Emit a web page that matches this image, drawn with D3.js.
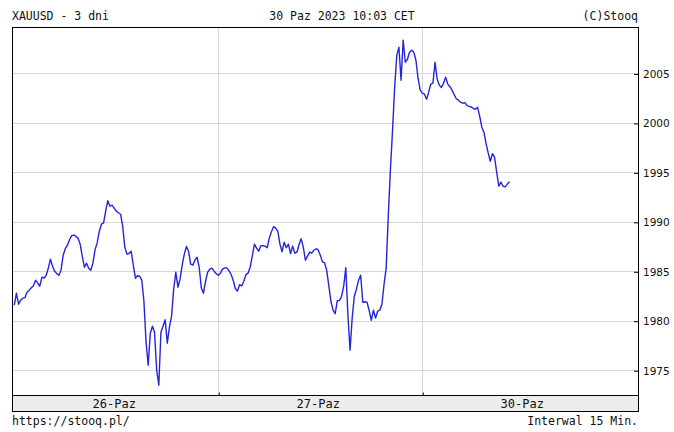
<!DOCTYPE html>
<html>
<head>
<meta charset="utf-8">
<script src="https://cdn.jsdelivr.net/npm/d3@7"></script>
<style>
  body { margin: 0; background: #fff; }
  svg { display: block; }
</style>
</head>
<body>
<svg id="chart" width="674" height="432"></svg>
<script>
// --- data (15 min bars) ---
const titleLeft = "XAUUSD - 3 dni";
const titleMid = "30 Paz 2023 10:03 CET";
const titleRight = "(C)Stooq";
const footLeft = "https://stooq.pl/";
const footRight = "Interwal 15 Min.";

const dayLabels = ["26-Paz", "27-Paz", "30-Paz"];
const dayStarts = [0, 96, 192];
const slotsPerDay = 96;
const yTicks = [1975, 1980, 1985, 1990, 1995, 2000, 2005];

const day26 = [
  1981.57, 1982.78, 1981.67, 1982.08, 1982.28, 1982.33, 1982.89, 1983.09, 1983.34, 1983.54,
  1984.10, 1983.83, 1983.49, 1984.40, 1984.30, 1984.60, 1985.31, 1986.22, 1985.51, 1985.01,
  1984.76, 1984.60, 1985.11, 1986.63, 1987.28, 1987.64, 1988.19, 1988.60, 1988.65, 1988.52,
  1988.35, 1987.74, 1986.48, 1985.41, 1985.82, 1985.31, 1985.11, 1985.82, 1987.18, 1987.87,
  1989.05, 1989.76, 1989.86, 1991.08, 1992.14, 1991.58, 1991.68, 1991.38, 1991.08, 1990.92,
  1990.77, 1989.56, 1987.44, 1986.73, 1986.80, 1987.03, 1985.62, 1984.30, 1984.55, 1984.50,
  1984.10, 1981.97, 1977.83, 1975.50, 1978.74, 1979.45, 1978.84, 1975.00, 1973.48, 1978.84,
  1979.45, 1980.10, 1977.73, 1979.35, 1980.46, 1983.19, 1984.91, 1983.39, 1984.20, 1985.62,
  1986.73, 1987.51, 1987.03, 1985.72, 1985.62, 1986.12, 1986.42, 1985.41, 1983.34, 1982.78,
  1983.99, 1984.91, 1985.21, 1985.31, 1985.01, 1984.76
];
const day27 = [
  1984.60, 1984.81, 1985.21, 1985.34, 1985.34, 1985.06, 1984.70, 1984.10, 1983.26, 1982.99,
  1983.64, 1983.52, 1984.00, 1984.66, 1984.81, 1985.41, 1986.53, 1987.74, 1987.34, 1987.03,
  1987.57, 1987.59, 1987.54, 1987.38, 1988.35, 1989.00, 1989.51, 1989.36, 1989.05, 1987.74,
  1986.98, 1987.94, 1987.38, 1987.74, 1986.78, 1987.54, 1986.83, 1986.93, 1987.71, 1988.28,
  1987.44, 1986.12, 1986.53, 1986.93, 1986.83, 1987.13, 1987.28, 1987.16, 1986.63, 1985.95,
  1985.87, 1985.11, 1983.54, 1981.97, 1981.07, 1980.71, 1982.03, 1982.03, 1982.45, 1983.49,
  1985.36, 1980.56, 1977.02, 1980.26, 1982.48, 1983.19, 1984.10, 1984.60, 1981.87, 1981.92,
  1981.87, 1981.02, 1980.05, 1981.07, 1980.26, 1980.96, 1981.07, 1981.67, 1983.69, 1985.31,
  1990.67, 1995.32, 1999.27, 2003.61, 2006.85, 2007.66, 2004.32, 2008.37, 2006.14, 2006.44,
  2007.15, 2007.35, 2007.15, 2006.34, 2004.52, 2003.31
];
const day30 = [
  2003.01, 2002.91, 2002.40, 2003.11, 2003.92, 2004.02, 2006.14, 2004.42, 2003.82, 2003.58,
  2004.02, 2004.62, 2003.92, 2003.66, 2003.31, 2002.86, 2002.45, 2002.30, 2002.10, 2001.99,
  2002.05, 2001.79, 2001.66, 2001.62, 2001.46, 2001.39, 2001.59, 2000.68, 1999.57, 1999.06,
  1997.90, 1996.97, 1996.13, 1996.89, 1996.54, 1995.02, 1993.60, 1994.01, 1993.60, 1993.53,
  1993.81, 1994.06
];

const prices = day26.concat(day27, day30);

// --- layout ---
const plot = { left: 12, right: 638, top: 27, bottom: 395 };
const bandH = 16;
const mono = "'DejaVu Sans Mono', 'Liberation Mono', monospace";

const svg = d3.select("#chart");

const x = d3.scaleLinear()
  .domain([0, 3 * slotsPerDay])
  .range([14.3, 626.3]);

const y = d3.scaleLinear()
  .domain([1972.49, 2009.7])
  .range([plot.bottom, plot.top]);

svg.append("rect")
  .attr("width", 674).attr("height", 432)
  .attr("fill", "#fff");

// grid
svg.append("g")
  .selectAll("line")
  .data(yTicks)
  .join("line")
  .attr("x1", plot.left).attr("x2", plot.right)
  .attr("y1", d => Math.round(y(d)) + 0.5)
  .attr("y2", d => Math.round(y(d)) + 0.5)
  .attr("stroke", "#d6d6d6");

svg.append("g")
  .selectAll("line")
  .data(dayStarts.slice(1))
  .join("line")
  .attr("x1", d => Math.round(x(d)) + 0.5)
  .attr("x2", d => Math.round(x(d)) + 0.5)
  .attr("y1", plot.top).attr("y2", plot.bottom)
  .attr("stroke", "#d6d6d6");

// price line
const line = d3.line()
  .x((d, i) => x(i))
  .y(d => y(d));

svg.append("path")
  .datum(prices)
  .attr("fill", "none")
  .attr("stroke", "#2424dc")
  .attr("stroke-width", 1.4)
  .attr("stroke-linejoin", "round")
  .attr("d", line);

// frame
svg.append("rect")
  .attr("x", plot.left + 0.5).attr("y", plot.top + 0.5)
  .attr("width", plot.right - plot.left)
  .attr("height", plot.bottom - plot.top)
  .attr("fill", "none")
  .attr("stroke", "#000");

// right axis, ticks pointing into the plot
svg.append("g")
  .attr("transform", `translate(${plot.right - 4},0.5)`)
  .call(d3.axisRight(y).tickValues(yTicks).tickSize(4).tickPadding(5).tickFormat(d3.format("d")))
  .call(g => g.select(".domain").remove())
  .call(g => g.selectAll("line").attr("stroke", "#000"))
  .call(g => g.selectAll("text")
    .attr("fill", "#111")
    .style("font-family", "'DejaVu Sans', Verdana, sans-serif")
    .style("font-size", "10.5px"));

// date band
svg.append("rect")
  .attr("x", plot.left + 0.5).attr("y", plot.bottom + 0.5)
  .attr("width", plot.right - plot.left)
  .attr("height", bandH)
  .attr("fill", "#ececec")
  .attr("stroke", "#000");

svg.append("g")
  .attr("transform", `translate(0.5,${plot.bottom + 0.5})`)
  .call(d3.axisTop(x).tickValues(dayStarts.slice(1)).tickSize(3).tickFormat(""))
  .call(g => g.select(".domain").remove())
  .call(g => g.selectAll("line").attr("stroke", "#000"));

svg.append("g")
  .selectAll("text")
  .data(dayLabels)
  .join("text")
  .attr("x", (d, i) => x(dayStarts[i] + slotsPerDay / 2) - 2)
  .attr("y", plot.bottom + 12.5)
  .attr("text-anchor", "middle")
  .style("font-family", mono)
  .style("font-size", "12px")
  .attr("fill", "#111")
  .text(d => d);

// header / footer
const texts = [
  { t: titleLeft, x: plot.left, y: 20, a: "start" },
  { t: titleMid, x: 342, y: 20, a: "middle" },
  { t: titleRight, x: plot.right, y: 20, a: "end" },
  { t: footLeft, x: plot.left, y: 425, a: "start" },
  { t: footRight, x: plot.right, y: 425, a: "end" }
];

svg.append("g")
  .selectAll("text")
  .data(texts)
  .join("text")
  .attr("x", d => d.x)
  .attr("y", d => d.y)
  .attr("text-anchor", d => d.a)
  .style("font-family", mono)
  .style("font-size", "11.5px")
  .attr("fill", "#111")
  .text(d => d.t);
</script>
</body>
</html>
